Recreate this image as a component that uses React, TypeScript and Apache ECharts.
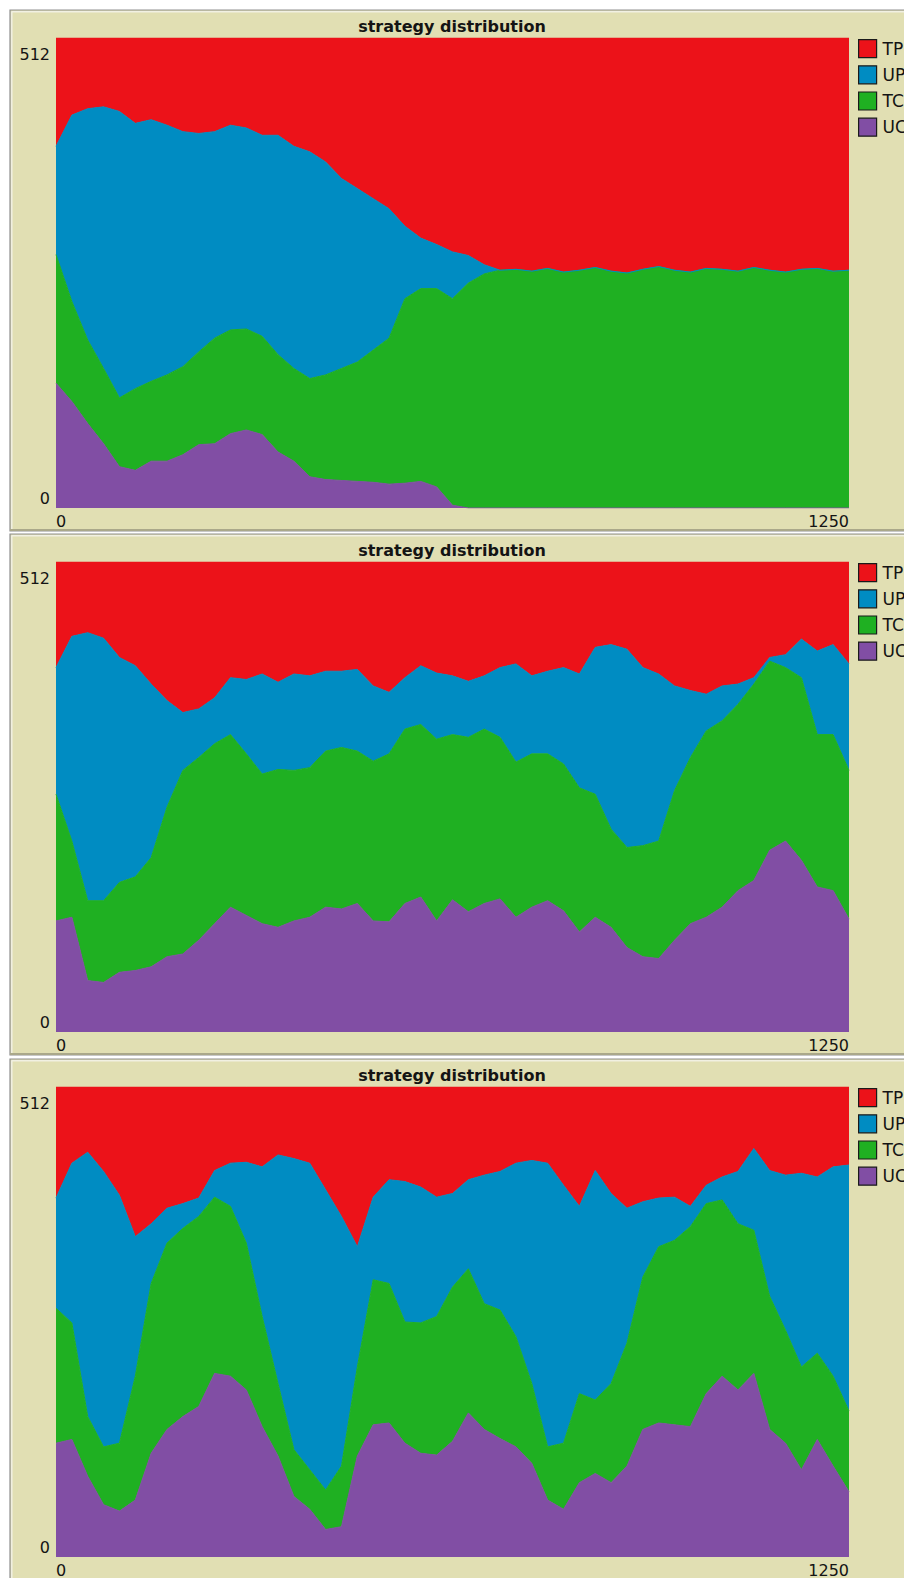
import React, { useEffect, useRef } from "react";
import * as echarts from "echarts";

// ---------- data ----------
const STEPS = [0,25,50,75,100,125,150,175,200,225,250,275,300,325,350,375,400,425,450,475,500,525,550,575,600,625,650,675,700,725,750,775,800,825,850,875,900,925,950,975,1000,1025,1050,1075,1100,1125,1150,1175,1200,1225,1250];
const X_TICKS = ["0", "1250"];
const Y_TICKS = [0, 512];
const TITLE = "strategy distribution";
const LEGEND_NAMES = ["TP", "UP", "TC", "UC"];

// panel 1
const UC_A = [136,116,92,70,45,41,51,51,58,69,70,81,85,80,61,51,34,31,30,29,28,26,27,29,23,3,0,0,0,0,0,0,0,0,0,0,0,0,0,0,0,0,0,0,0,0,0,0,0,0,0];
const TC_A = [140,109,91,82,75,89,87,94,96,101,115,113,110,107,106,101,107,114,122,130,144,159,201,210,216,225,245,255,259,260,258,261,257,259,262,258,256,260,263,259,257,261,260,258,262,259,257,260,261,258,259];
const UP_A = [118,203,252,285,312,289,285,272,256,238,225,223,219,219,239,242,247,232,207,189,165,141,79,55,48,51,30,10,0,0,0,0,0,0,0,0,0,0,0,0,0,0,0,0,0,0,0,0,0,0,0];
const TP_A = [118,84,77,75,80,93,89,95,102,104,102,95,98,106,106,118,124,135,153,164,175,186,205,218,225,233,237,247,253,252,254,251,255,253,250,254,256,252,249,253,255,251,252,254,250,253,255,252,251,254,253];

// panel 2
const UC_B = [121,125,56,54,65,67,71,82,85,100,118,136,127,118,114,121,125,136,134,140,121,120,140,147,121,144,131,140,145,125,136,143,132,109,125,114,92,82,80,100,118,125,136,154,165,198,208,187,158,154,123];
const TC_B = [138,83,87,89,98,102,119,163,200,199,196,188,176,163,172,164,163,170,176,166,174,183,190,188,198,180,190,190,176,169,167,160,160,157,134,107,109,121,128,163,181,203,203,203,214,206,189,199,166,170,162];
const UP_B = [138,223,292,286,245,230,189,116,63,53,50,62,81,109,95,105,100,87,83,89,82,67,56,64,72,64,61,58,76,107,85,90,105,124,160,201,216,194,182,114,73,40,38,22,7,4,14,42,91,98,116];
const TP_B = [115,81,77,83,104,113,133,151,164,160,148,126,128,122,131,122,124,119,119,117,135,142,126,113,121,124,130,124,115,111,124,119,115,122,93,90,95,115,122,135,140,144,135,133,126,104,101,84,97,90,111];

// panel 3
const UC_C = [124,128,88,57,50,62,113,139,153,164,200,197,182,142,110,66,52,30,33,110,144,146,124,113,111,126,157,139,129,120,102,62,52,81,91,81,99,139,146,144,142,178,197,182,200,139,124,95,128,99,71];
const TC_C = [147,127,65,63,74,135,185,203,205,207,192,185,160,120,79,51,43,43,66,97,158,152,132,142,151,168,157,137,140,120,87,58,72,97,80,108,134,166,192,201,218,207,192,181,156,145,123,112,94,98,88];
const UP_C = [120,174,288,300,270,152,65,38,27,20,29,47,88,163,249,317,334,327,272,131,90,113,153,148,130,102,97,140,151,189,243,309,281,204,250,207,147,82,53,47,22,20,25,57,89,137,169,211,192,228,268];
const TP_C = [121,83,71,92,118,163,149,132,127,121,91,83,82,87,74,78,83,112,141,174,120,101,103,109,120,116,101,96,92,83,80,83,107,130,91,116,132,125,121,120,130,107,98,92,67,91,96,94,98,87,85];

// ---------- styles ----------
const FONT = '"DejaVu Sans", "Lucida Grande", sans-serif';
const BEIGE = "#e1dfb3";
const TEXT = "#141414";
const COLORS: Record<string, string> = {
  TP: "#ec1219",
  UP: "#008cc2",
  TC: "#1fb022",
  UC: "#814ea4",
};

const PANELS = [
  { UC: UC_A, TC: TC_A, UP: UP_A, TP: TP_A },
  { UC: UC_B, TC: TC_B, UP: UP_B, TP: TP_B },
  { UC: UC_C, TC: TC_C, UP: UP_C, TP: TP_C },
];
const STACK_ORDER = ["UC", "TC", "UP", "TP"];
const PANEL_TOPS = [10, 534, 1059];
const GRID_LEFT = 56;
const GRID_WIDTH = 793;
const GRID_HEIGHT = 470;

function buildOption() {
  const grids: any[] = [];
  const xAxes: any[] = [];
  const yAxes: any[] = [];
  const series: any[] = [];
  const titles: any[] = [];
  const legends: any[] = [];
  const graphics: any[] = [];

  const yMin = Y_TICKS[0];
  const yMax = Y_TICKS[Y_TICKS.length - 1];
  const categories = STEPS.map(String);
  const lastIdx = categories.length - 1;

  PANELS.forEach((panel, i) => {
    const pt = PANEL_TOPS[i];
    const gt = pt + 28;

    graphics.push(
      {
        type: "rect",
        z: -10,
        shape: { x: 10, y: pt, width: 900, height: 521 },
        style: { fill: BEIGE, stroke: "#8f8f8f", lineWidth: 1.2 },
        silent: true,
      },
      {
        type: "line",
        z: -9,
        shape: { x1: 11.5, y1: pt + 1.8, x2: 904, y2: pt + 1.8 },
        style: { stroke: "#f1f0e2", lineWidth: 1.5 },
        silent: true,
      },
      {
        type: "line",
        z: -9,
        shape: { x1: 11.8, y1: pt + 1.5, x2: 11.8, y2: pt + 519 },
        style: { stroke: "#f1f0e2", lineWidth: 1.5 },
        silent: true,
      },
      {
        type: "rect",
        z: -9,
        shape: { x: 10, y: pt + 519, width: 900, height: 2 },
        style: { fill: "#aaa88a" },
        silent: true,
      }
    );

    grids.push({
      left: GRID_LEFT,
      top: gt,
      width: GRID_WIDTH,
      height: GRID_HEIGHT,
      show: false,
      containLabel: false,
    });

    xAxes.push({
      gridIndex: i,
      type: "category",
      data: categories,
      boundaryGap: false,
      axisLine: { show: false },
      axisTick: { show: false },
      splitLine: { show: false },
      axisLabel: {
        show: true,
        margin: 5,
        color: TEXT,
        fontSize: 16,
        fontFamily: FONT,
        lineHeight: 16,
        interval: (idx: number, val: string) =>
          (idx === 0 || idx === lastIdx) && X_TICKS.includes(val),
        alignMinLabel: "left",
        alignMaxLabel: "right",
        showMinLabel: true,
        showMaxLabel: true,
        hideOverlap: false,
      },
    });

    yAxes.push({
      gridIndex: i,
      type: "value",
      min: yMin,
      max: yMax,
      interval: yMax - yMin,
      axisLine: { show: false },
      axisTick: { show: false },
      splitLine: { show: false },
      axisLabel: {
        show: true,
        margin: 6,
        color: TEXT,
        fontSize: 16,
        fontFamily: FONT,
        showMinLabel: true,
        showMaxLabel: true,
        verticalAlignMaxLabel: "top",
        verticalAlignMinLabel: "bottom",
        formatter: (v: number) => (v === yMax ? `{hi|${v}}` : `{lo|${v}}`),
        rich: {
          hi: { fontSize: 16, fontFamily: FONT, color: TEXT, lineHeight: 16, padding: [17, 0, 0, 0] },
          lo: { fontSize: 16, fontFamily: FONT, color: TEXT, lineHeight: 16, padding: [0, 0, 4, 0] },
        },
      },
    });

    titles.push({
      text: TITLE,
      left: "center",
      top: pt + 8,
      padding: 0,
      textStyle: {
        fontFamily: FONT,
        fontSize: 16,
        fontWeight: "bold",
        color: TEXT,
        lineHeight: 17,
      },
    });

    legends.push({
      left: 858,
      top: gt + 1,
      orient: "vertical",
      padding: 0,
      itemWidth: 18,
      itemHeight: 18,
      itemGap: 7,
      icon: "rect",
      selectedMode: false,
      data: LEGEND_NAMES,
      itemStyle: { borderColor: "#1a1a1a", borderWidth: 1.2 },
      textStyle: {
        fontFamily: FONT,
        fontSize: 17,
        color: TEXT,
        lineHeight: 18,
        padding: [0, 0, 0, 1],
      },
    });

    STACK_ORDER.forEach((key) => {
      const values = (panel as any)[key] as number[];
      series.push({
        type: "line",
        name: key,
        xAxisIndex: i,
        yAxisIndex: i,
        stack: "panel" + i,
        data: values,
        symbol: "none",
        showSymbol: false,
        silent: true,
        color: COLORS[key],
        itemStyle: { color: COLORS[key] },
        lineStyle: { width: 1, color: COLORS[key] },
        areaStyle: { color: COLORS[key], opacity: 1 },
        emphasis: { disabled: true },
      });
    });
  });

  return {
    animation: false,
    backgroundColor: "#ffffff",
    textStyle: { fontFamily: FONT },
    tooltip: { show: false },
    graphic: graphics,
    title: titles,
    legend: legends,
    grid: grids,
    xAxis: xAxes,
    yAxis: yAxes,
    series,
  };
}

export default function App() {
  const ref = useRef<HTMLDivElement>(null);
  useEffect(() => {
    if (!ref.current) return;
    const chart = echarts.init(ref.current, null, { renderer: "svg" });
    chart.setOption(buildOption() as any);
    return () => chart.dispose();
  }, []);
  return (
    <div
      ref={ref}
      style={{ position: "absolute", left: 0, top: 0, width: 904, height: 1578 }}
    />
  );
}
